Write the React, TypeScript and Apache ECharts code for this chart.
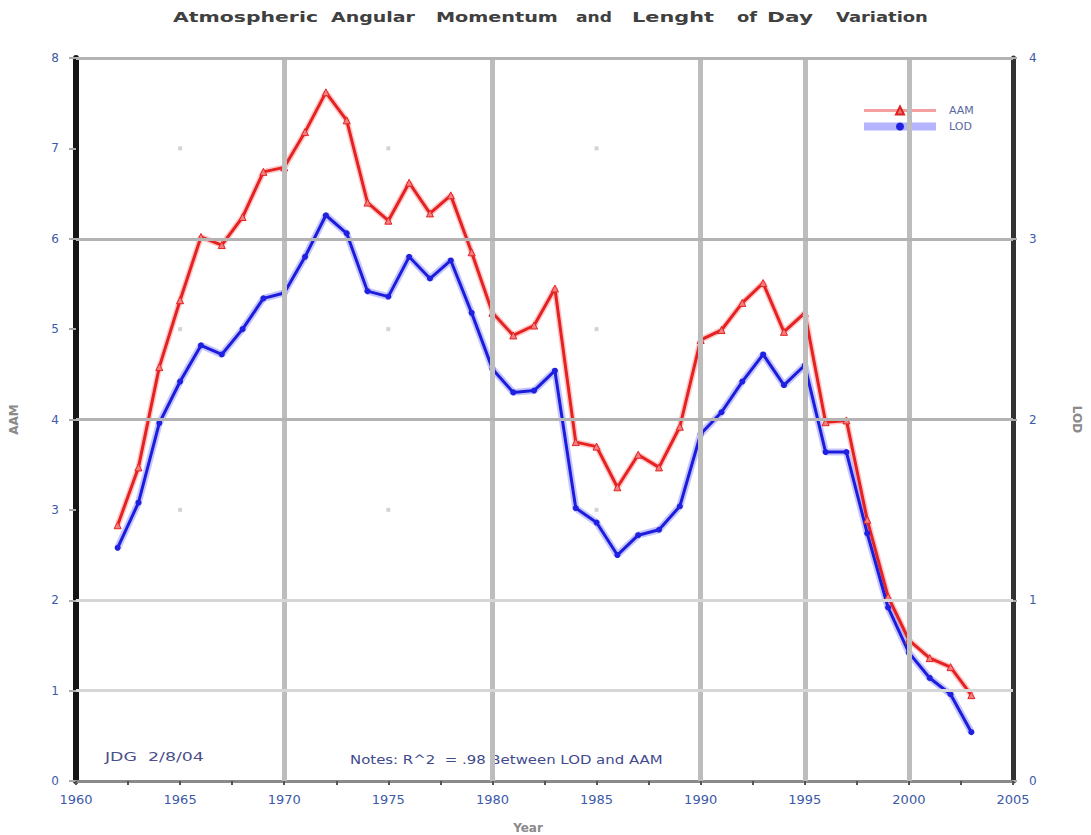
import React, { useEffect, useRef } from "react";
import * as echarts from "echarts";

const years = [
  1962, 1963, 1964, 1965, 1966, 1967, 1968, 1969, 1970, 1971, 1972, 1973, 1974, 1975,
  1976, 1977, 1978, 1979, 1980, 1981, 1982, 1983, 1984, 1985, 1986, 1987, 1988, 1989,
  1990, 1991, 1992, 1993, 1994, 1995, 1996, 1997, 1998, 1999, 2000, 2001, 2002, 2003,
];
const aam = [
  2.83, 3.47, 4.58, 5.32, 6.02, 5.93, 6.24, 6.74, 6.79, 7.18, 7.62, 7.31, 6.4, 6.2,
  6.62, 6.28, 6.48, 5.85, 5.18, 4.93, 5.04, 5.45, 3.75, 3.7, 3.25, 3.61, 3.47, 3.92,
  4.88, 4.99, 5.29, 5.51, 4.97, 5.18, 3.97, 3.99, 2.89, 2.04, 1.56, 1.36, 1.26, 0.95,
];
const lod = [
  1.29, 1.54, 1.98, 2.21, 2.41, 2.36, 2.5, 2.67, 2.7, 2.9, 3.13, 3.03, 2.71, 2.68,
  2.9, 2.78, 2.88, 2.59, 2.28, 2.15, 2.16, 2.27, 1.51, 1.43, 1.25, 1.36, 1.39, 1.52,
  1.92, 2.04, 2.21, 2.36, 2.19, 2.3, 1.82, 1.82, 1.37, 0.96, 0.71, 0.57, 0.48, 0.27,
];
const verticalGridYears = [1970, 1980, 1990, 1995, 2000];
const strongGridAam = [8, 6, 4];
const lightGridAam = [2, 1];
const dotYears = [1965, 1975, 1985];
const dotValues = [7, 5, 3];
const titleWords = ["Atmospheric", "Angular", "Momentum", "and", "Lenght", "of", "Day", "Variation"];
const titleSpans = [
  [173, 318], [331, 415], [436, 558], [576, 612], [632, 714], [737, 757], [767, 813], [836, 928],
];

function measure(text: string, font: string): number {
  const c = document.createElement("canvas").getContext("2d");
  if (!c) return text.length * 8;
  c.font = font;
  return c.measureText(text).width || text.length * 8;
}

function fitText(text: string, x0: number, x1: number, y: number, font: string, fill: string) {
  const w = measure(text, font);
  return {
    type: "text",
    x: x0,
    y,
    scaleX: (x1 - x0) / w,
    silent: true,
    style: {
      text,
      font,
      fill,
      textAlign: "left",
      align: "left",
      textVerticalAlign: "middle",
      verticalAlign: "middle",
    },
  };
}

export default function App() {
  const ref = useRef<HTMLDivElement>(null);

  useEffect(() => {
    if (!ref.current) return;
    const chart = echarts.init(ref.current, null, { renderer: "svg" });

    const titleFont = "bold 14px 'DejaVu Sans'";
    const graphics: any[] = titleWords.map((w, i) =>
      fitText(w, titleSpans[i][0], titleSpans[i][1], 17, titleFont, "#404040")
    );
    graphics.push(fitText("JDG  2/8/04", 105, 204, 757, "12px 'DejaVu Sans'", "#4a4f8a"));
    graphics.push(
      fitText("Notes: R^2  = .98 Between LOD and AAM", 350, 663, 760, "12px 'DejaVu Sans'", "#3f4a8c")
    );
    graphics.push({
      type: "text",
      x: 528,
      y: 828,
      silent: true,
      style: {
        text: "Year",
        font: "bold 12px 'DejaVu Sans'",
        fill: "#8a8a8a",
        textAlign: "center",
        align: "center",
        textVerticalAlign: "middle",
        verticalAlign: "middle",
      },
    });

    const dots: number[][] = [];
    dotYears.forEach((yr) => dotValues.forEach((v) => dots.push([yr, v])));

    const labelColor = "#3d5aa8";

    chart.setOption({
      animation: false,
      backgroundColor: "#ffffff",
      graphic: graphics,
      legend: {
        orient: "vertical",
        left: 855,
        top: 100,
        itemWidth: 72,
        itemHeight: 10,
        itemGap: 5,
        textStyle: { color: "#5a68a0", fontSize: 11, fontFamily: "DejaVu Sans", padding: [0, 0, 0, 8] },
        data: [
          {
            name: "AAM",
            itemStyle: { color: "#f07070", borderColor: "#e02020" },
            lineStyle: { color: "#f4a0a0", width: 3 },
          },
          {
            name: "LOD",
            itemStyle: { color: "#2020e0" },
            lineStyle: { color: "#b4b4ff", width: 8 },
          },
        ],
      },
      grid: { left: 73, right: 72, top: 58, bottom: 54, containLabel: false },
      xAxis: {
        type: "value",
        min: 1960,
        max: 2005,
        interval: 5,
        axisLine: { show: true, lineStyle: { color: "#8a8a8a", width: 3 } },
        axisTick: { show: true, length: 4, lineStyle: { color: "#555", width: 2 } },
        minorTick: { show: true, splitNumber: 2, length: 4, lineStyle: { color: "#555", width: 2 } },
        splitLine: { show: false },
        axisLabel: {
          color: labelColor,
          fontSize: 13,
          fontFamily: "DejaVu Sans",
          margin: 12,
          formatter: (v: number) => String(v),
        },
      },
      yAxis: [
        {
          type: "value",
          min: 0,
          max: 8,
          interval: 1,
          position: "left",
          name: "AAM",
          nameLocation: "middle",
          nameGap: 56,
          nameRotate: 90,
          nameTextStyle: { color: "#8a8a8a", fontWeight: "bold", fontSize: 12, fontFamily: "DejaVu Sans" },
          axisLine: { show: true, lineStyle: { color: "#151515", width: 6 } },
          axisTick: { show: true, length: 7, lineStyle: { color: "#aaa", width: 2 } },
          splitLine: { show: false },
          axisLabel: { color: labelColor, fontSize: 12, fontFamily: "DejaVu Sans", margin: 17 },
        },
        {
          type: "value",
          min: 0,
          max: 4,
          interval: 1,
          position: "right",
          name: "LOD",
          nameLocation: "middle",
          nameGap: 58,
          nameRotate: -90,
          nameTextStyle: { color: "#8a8a8a", fontWeight: "bold", fontSize: 12, fontFamily: "DejaVu Sans" },
          axisLine: { show: true, lineStyle: { color: "#333", width: 5 } },
          axisTick: { show: true, length: 4, lineStyle: { color: "#aaa", width: 2 } },
          splitLine: { show: false },
          axisLabel: { color: labelColor, fontSize: 12, fontFamily: "DejaVu Sans", margin: 16 },
        },
      ],
      series: [
        {
          name: "_grid",
          type: "line",
          data: [],
          z: 1,
          silent: true,
          markLine: {
            silent: true,
            symbol: "none",
            label: { show: false },
            animation: false,
            data: [
              ...verticalGridYears.map((y) => ({ xAxis: y, lineStyle: { color: "#bdbdbd", width: 5, type: "solid" } })),
              ...strongGridAam.map((v) => ({ yAxis: v, lineStyle: { color: "#b3b3b3", width: 3, type: "solid" } })),
              ...lightGridAam.map((v) => ({ yAxis: v, lineStyle: { color: "#d6d6d6", width: 3, type: "solid" } })),
            ],
          },
        },
        {
          name: "_dots",
          type: "scatter",
          data: dots,
          symbol: "rect",
          symbolSize: 4,
          itemStyle: { color: "#c8c8c8" },
          silent: true,
          z: 1,
        },
        {
          name: "_haloAAM",
          type: "line",
          data: years.map((y, i) => [y, aam[i]]),
          showSymbol: false,
          symbol: "none",
          lineStyle: { color: "rgba(255,130,130,0.45)", width: 6 },
          silent: true,
          z: 2,
        },
        {
          name: "_haloLOD",
          type: "line",
          yAxisIndex: 1,
          data: years.map((y, i) => [y, lod[i]]),
          showSymbol: false,
          symbol: "none",
          lineStyle: { color: "rgba(140,140,255,0.5)", width: 7 },
          silent: true,
          z: 2,
        },
        {
          name: "AAM",
          type: "line",
          data: years.map((y, i) => [y, aam[i]]),
          symbol: "triangle",
          symbolSize: 7,
          itemStyle: { color: "#f08080", borderColor: "#e52222", borderWidth: 1 },
          lineStyle: { color: "#e52222", width: 3 },
          z: 3,
        },
        {
          name: "LOD",
          type: "line",
          yAxisIndex: 1,
          data: years.map((y, i) => [y, lod[i]]),
          symbol: "circle",
          symbolSize: 6,
          itemStyle: { color: "#2020e0" },
          lineStyle: { color: "#1c1cdc", width: 3 },
          z: 3,
        },
      ],
    });

    return () => chart.dispose();
  }, []);

  return (
    <div
      ref={ref}
      style={{ position: "absolute", left: 0, top: 0, width: 1091, height: 835, background: "#fff" }}
    />
  );
}
